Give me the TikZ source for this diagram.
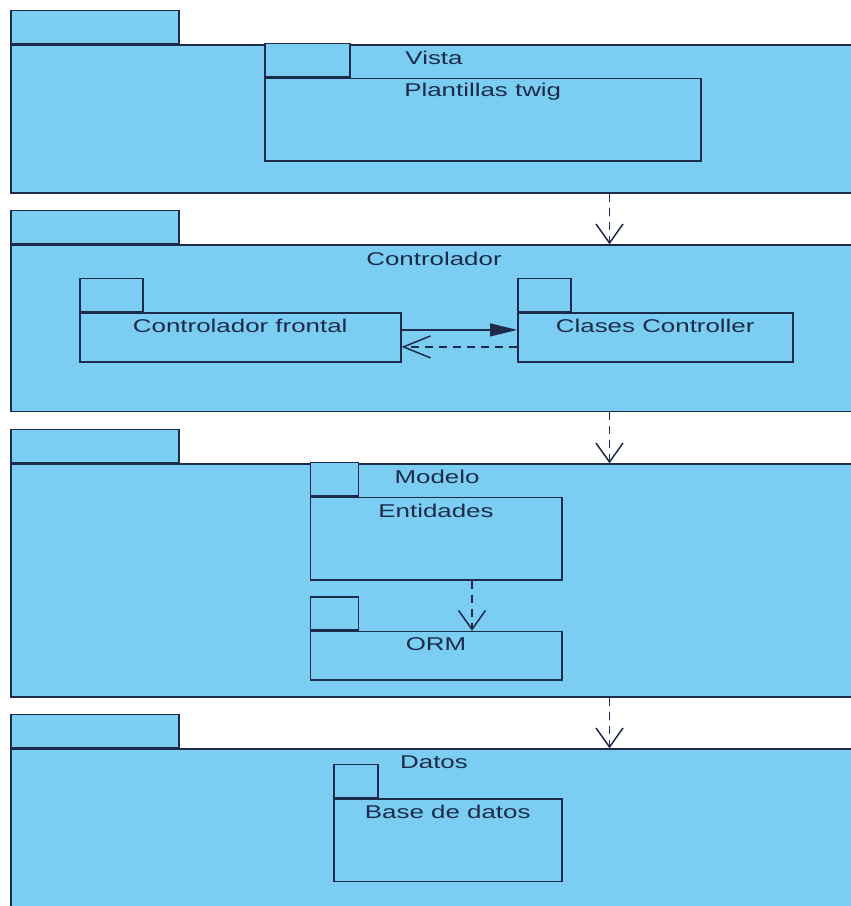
\documentclass[tikz,border=0pt]{standalone}
\usepackage{fontspec}
\newfontfamily\pkgfont[FakeStretch=1.4]{Liberation Sans}
\usetikzlibrary{arrows.meta}
\definecolor{pkgblue}{HTML}{7BCDF2}
\definecolor{pkgline}{HTML}{1C2B4A}

\begin{document}
\begin{tikzpicture}[x=1pt, y=-1pt,
    body/.style={draw=pkgline, fill=pkgblue, line width=1.5pt, anchor=north west, inner sep=0pt},
    tab/.style={body, anchor=south west, minimum height=33pt},
    pkgname/.style={text=pkgline, font=\pkgfont\fontsize{18.5}{20}\selectfont, inner sep=0pt},
    dep/.style={draw=pkgline, line width=1.5pt, dash pattern=on 8pt off 6pt},
    ]
    \clip (0,0) rectangle (851,906);
    \fill[white] (0,0) rectangle (851,906);

    % Vista
    \node[body, minimum width=860pt, minimum height=148pt] (vista) at (10,44) {};
    \node[tab, minimum width=168pt] (vista-tab) at (vista.north west) {};
    \node[body, minimum width=436pt, minimum height=82.3pt] (plantillas) at (264,77.7) {};
    \node[tab, minimum width=85pt, minimum height=33.7pt] (plantillas-tab) at (plantillas.north west) {};
    \node[pkgname] (vista-name) at (434,58) {Vista};
    \node[pkgname] (plantillas-name) at ([yshift=-14pt]plantillas.north) {Plantillas twig};

    % Controlador
    \node[body, minimum width=860pt, minimum height=166.4pt] (controlador) at (10,244.3) {};
    \node[tab, minimum width=168pt] (controlador-tab) at (controlador.north west) {};
    \node[body, minimum width=321pt, minimum height=48.7pt] (frontal) at (79,312.3) {};
    \node[tab, minimum width=63pt] (frontal-tab) at (frontal.north west) {};
    \node[body, minimum width=275pt, minimum height=48.7pt] (clases) at (517,312.3) {};
    \node[tab, minimum width=53pt] (clases-tab) at (clases.north west) {};
    \node[pkgname] (controlador-name) at (434,259) {Controlador};
    \node[pkgname] (frontal-name) at ([yshift=-14pt]frontal.north) {Controlador frontal};
    \node[pkgname] (clases-name) at ([yshift=-14pt]clases.north) {Clases Controller};

    % Modelo
    \node[body, minimum width=860pt, minimum height=232.7pt] (modelo) at (10,463.3) {};
    \node[tab, minimum width=168pt] (modelo-tab) at (modelo.north west) {};
    \node[body, minimum width=251.5pt, minimum height=82.3pt] (entidades) at (309.5,496.7) {};
    \node[tab, minimum width=48.2pt, minimum height=33.4pt] (entidades-tab) at (entidades.north west) {};
    \node[body, minimum width=251.5pt, minimum height=48.3pt] (orm) at (309.5,630.7) {};
    \node[tab, minimum width=48.2pt] (orm-tab) at (orm.north west) {};
    \node[pkgname] (modelo-name) at (437,477) {Modelo};
    \node[pkgname] (entidades-name) at ([yshift=-14pt]entidades.north) {Entidades};
    \node[pkgname] (orm-name) at ([yshift=-13pt]orm.north) {ORM};

    % Datos
    \node[body, minimum width=860pt, minimum height=200pt] (datos) at (10,748.3) {};
    \node[tab, minimum width=168pt] (datos-tab) at (datos.north west) {};
    \node[body, minimum width=228pt, minimum height=82.7pt] (base) at (333,798) {};
    \node[tab, minimum width=44pt] (base-tab) at (base.north west) {};
    \node[pkgname] (datos-name) at (434,762) {Datos};
    \node[pkgname] (base-name) at ([yshift=-14pt]base.north) {Base de datos};

    % dependencias
    \coordinate (depx) at (609.5,0);
    \coordinate (ormx) at (472,0);
    \draw[dep, -{Straight Barb[length=19pt, width=27pt]}] (vista.south -| depx) -- (controlador.north -| depx);
    \draw[dep, -{Straight Barb[length=19pt, width=27pt]}] (controlador.south -| depx) -- (modelo.north -| depx);
    \draw[dep, -{Straight Barb[length=19pt, width=27pt]}] (modelo.south -| depx) -- (datos.north -| depx);
    \draw[dep, -{Straight Barb[length=19pt, width=27pt]}] (entidades.south -| ormx) -- (orm.north -| ormx);
    \draw[draw=pkgline, line width=1.5pt, -{Triangle[length=27pt, width=13pt]}] ([yshift=7.5pt]frontal.east) -- ([yshift=7.5pt]clases.west);
    \draw[dep, -{Straight Barb[length=27pt, width=22pt]}] ([yshift=-9.5pt]clases.west) -- ([yshift=-9.5pt]frontal.east);
\end{tikzpicture}
\end{document}
